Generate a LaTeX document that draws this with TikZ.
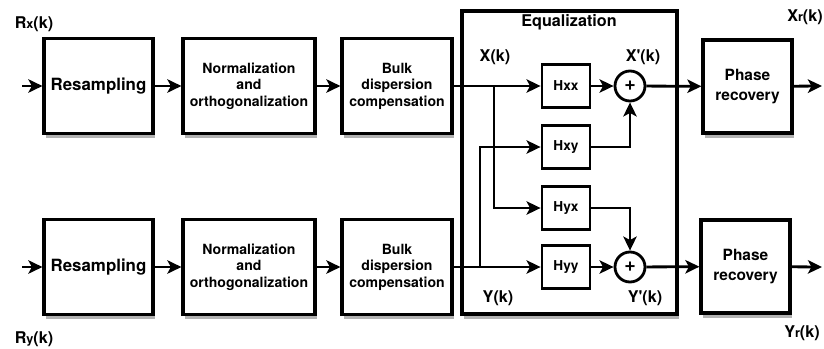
\documentclass[tikz,border=0pt]{standalone}
\usepackage{fontspec}
\setmainfont{TeX Gyre Heros}
\usetikzlibrary{shapes, arrows.meta, shadows, positioning, calc}
\tikzstyle{arrow} = [line width=2pt, -{Stealth[length=10pt,width=9.5pt,inset=2.5pt]}]
\tikzstyle{block} = [draw, line width=2.2pt, fill=white, align=center, inner sep=1pt,
    font=\bfseries\fontsize{10}{11.8}\selectfont,
    drop shadow={shadow xshift=0.5mm, shadow yshift=-1.2mm, opacity=0.55, fill=black!55}]
\tikzstyle{filt} = [draw, line width=2pt, fill=white, minimum width=1.2cm, minimum height=1.075cm,
    font=\bfseries\fontsize{9.7}{11}\selectfont]
\tikzstyle{adder} = [draw, circle, line width=2pt, fill=white, minimum size=0.75cm, inner sep=0pt,
    font=\bfseries\fontsize{14}{14}\selectfont]
\tikzstyle{sig} = [font=\bfseries\fontsize{11.5}{13}\selectfont, inner sep=0pt]

\begin{document}
\begin{tikzpicture}[x=0.025cm, y=-0.025cm]
    \useasboundingbox (0,0) rectangle (824,349);
    % equalization box
    \node[block, minimum width=5.375cm, minimum height=7.575cm] (eq) at (569.5,162.5) {};
    \node[sig] (eqlabel) at (569,22) {Equalization};
    % x polarization
    \node[block, minimum width=2.725cm, minimum height=2.375cm, font=\bfseries\fontsize{12}{14}\selectfont] (rsx) at (98.5,86) {Resampling};
    \node[block, minimum width=3.3cm, minimum height=2.375cm] (nox) at (249,86) {Normalization\\and\\orthogonalization};
    \node[block, minimum width=2.75cm, minimum height=2.375cm] (bdx) at (397,86) {Bulk\\dispersion\\compensation};
    \node[block, minimum width=2.225cm, minimum height=2.325cm, font=\bfseries\fontsize{11}{14.5}\selectfont] (prx) at (747.5,86.5) {Phase\\recovery};
    % y polarization
    \node[block, minimum width=2.725cm, minimum height=2.375cm, font=\bfseries\fontsize{12}{14}\selectfont] (rsy) at (98.5,267) {Resampling};
    \node[block, minimum width=3.3cm, minimum height=2.375cm] (noy) at (249,267) {Normalization\\and\\orthogonalization};
    \node[block, minimum width=2.75cm, minimum height=2.375cm] (bdy) at (397,267) {Bulk\\dispersion\\compensation};
    \node[block, minimum width=2.225cm, minimum height=2.325cm, font=\bfseries\fontsize{11}{14.5}\selectfont] (pry) at (745.5,266.5) {Phase\\recovery};
    % butterfly filters
    \node[filt] (hxx) at (566,86) {Hxx};
    \node[filt] (hxy) at (566,147) {Hxy};
    \node[filt] (hyx) at (566,208) {Hyx};
    \node[filt] (hyy) at (566,267) {Hyy};
    \node[adder] (sx) at (630,86) {+};
    \node[adder] (sy) at (630,267) {+};
    % labels
    \node[sig] (rxl) at (34,24) {R{\fontsize{9}{9}\selectfont x}(k)};
    \node[sig] (ryl) at (34,339) {R{\fontsize{9}{9}\selectfont y}(k)};
    \node[sig] (xrl) at (805,17) {X{\fontsize{9}{9}\selectfont r}(k)};
    \node[sig] (yrl) at (802,333) {Y{\fontsize{9}{9}\selectfont r}(k)};
    \node[sig] (xl) at (495,57) {X(k)};
    \node[sig] (yl) at (498,298) {Y(k)};
    \node[sig] (xpl) at (643,57) {X\textquotesingle(k)};
    \node[sig] (ypl) at (645,298) {Y\textquotesingle(k)};
    % end points
    \coordinate (ix) at (22,86);
    \coordinate (iy) at (22,267);
    \coordinate (ox) at (822,86);
    \coordinate (oy) at (822,267);
    \coordinate (bx) at (494,86);
    \coordinate (by) at (480,267);
    % signal flow
    \draw[arrow] (ix) -- (rsx);
    \draw[arrow] (rsx) -- (nox);
    \draw[arrow] (nox) -- (bdx);
    \draw[arrow] (bdx) -- (hxx);
    \draw[arrow] (hxx) -- (sx);
    \draw[arrow] (sx) -- (prx);
    \draw[arrow] (prx) -- (ox);
    \draw[arrow] (iy) -- (rsy);
    \draw[arrow] (rsy) -- (noy);
    \draw[arrow] (noy) -- (bdy);
    \draw[arrow] (bdy) -- (hyy);
    \draw[arrow] (hyy) -- (sy);
    \draw[arrow] (sy) -- (pry);
    \draw[arrow] (pry) -- (oy);
    % cross branches
    \draw[arrow] (bx) |- (hyx);
    \draw[arrow] (by) |- (hxy);
    \draw[arrow] (hxy) -| (sx);
    \draw[arrow] (hyx) -| (sy);
\end{tikzpicture}
\end{document}
